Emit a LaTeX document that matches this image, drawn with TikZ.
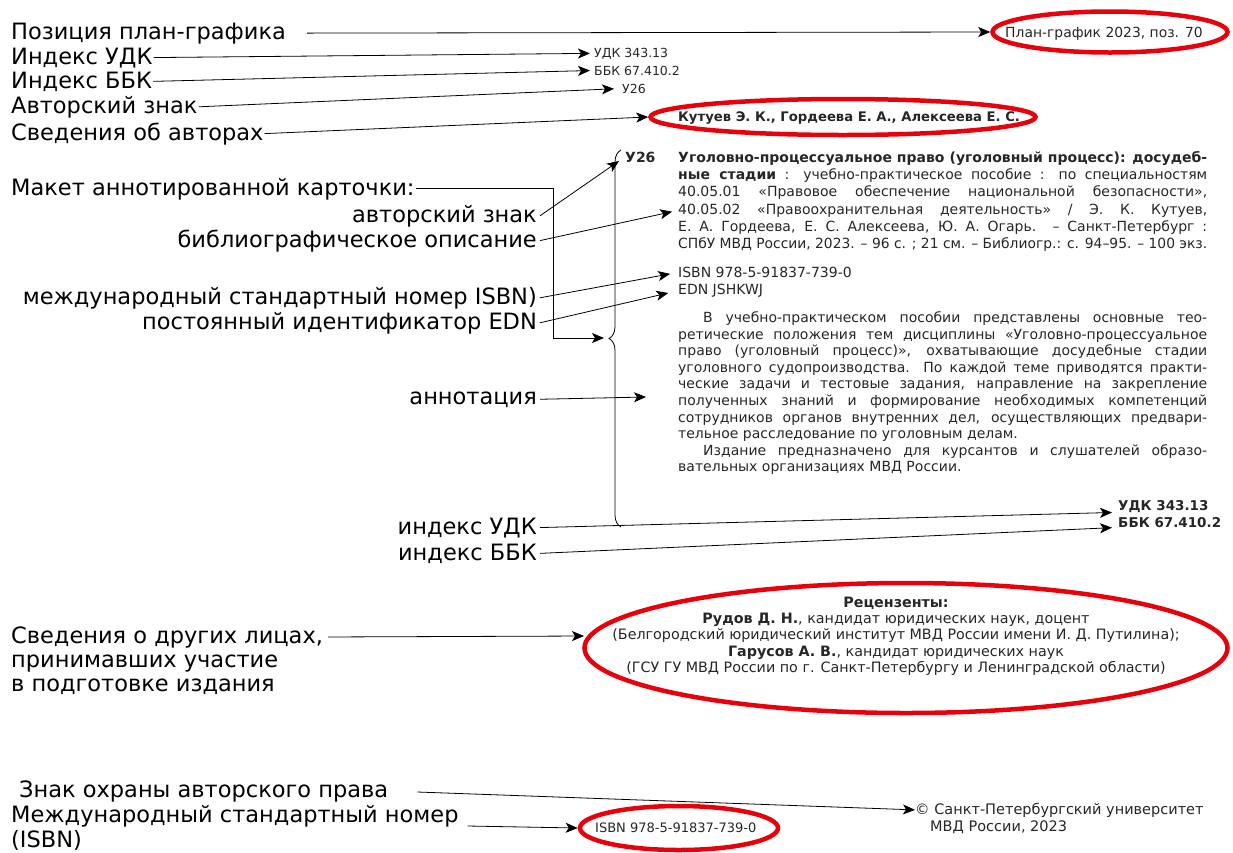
\documentclass[tikz,border=0pt]{standalone}
\usepackage{fontspec}
\usepackage{graphicx}
\setmainfont{DejaVu Sans}
\usetikzlibrary{arrows.meta,shapes.geometric,decorations.pathreplacing,calc}
\definecolor{txt}{HTML}{262626}
\definecolor{ered}{HTML}{E8000B}
\newcommand\LblFont{\fontsize{22.5}{25}\selectfont}
\newcommand\CardFont{\fontsize{14}{17}\selectfont}
\newlength\jlw
\newcommand\jl[1]{\settowidth\jlw{#1}\ifdim\jlw>529pt\relax\resizebox{529pt}{\height}{#1}\else\makebox[529pt][s]{#1}\fi}
\begin{document}
\begin{tikzpicture}[x=1pt,y=-1pt,
 lbl/.style={font=\LblFont, inner sep=1pt, anchor=base west},
 lblr/.style={font=\LblFont, inner sep=3pt, anchor=base east},
 card/.style={font=\CardFont, text=txt, inner sep=0pt, anchor=base west},
 small/.style={card, font=\fontsize{12.5}{15}\selectfont},
 arr/.style={-{Stealth[length=12pt,width=10pt,inset=3pt]}, line width=0.8pt},
 oval/.style={ellipse, draw=ered, line width=4.5pt, inner sep=0pt}]
\useasboundingbox (0,0) rectangle (1233,852);

% ---- top left labels
\node[lbl] (pos)  at (10,39)  {Позиция план-графика};
\node[lbl] (iudk) at (10,64)  {Индекс УДК};
\node[lbl] (ibbk) at (10,88)  {Индекс ББК};
\node[lbl] (iavt) at (10,113) {Авторский знак};
\node[lbl] (isv)  at (10,140) {Сведения об авторах};

% ---- top targets
\node[oval, minimum width=235, minimum height=41] (planE) at (1110,32) {};
\node[card, font=\fontsize{13.9}{16}\selectfont] (plan) at (1005,37) {План-график 2023, поз. 70};
\node[small] (udk1) at (594,57) {УДК 343.13};
\node[small] (bbk1) at (594,75) {ББК 67.410.2};
\node[small] (u26a) at (622,93) {У26};
\node[oval, minimum width=385, minimum height=36] (authE) at (843,117) {};
\node[card, font=\bfseries\fontsize{13.2}{15}\selectfont] (auth) at (678,121.5) {Кутуев Э. К., Гордеева Е. А., Алексеева Е. С.};

\draw[arr, shorten <=20pt] (pos.east) -- (planE.west);
\draw[arr, shorten >=4pt] (iudk.east) -- (udk1.west);
\draw[arr, shorten >=4pt] (ibbk.east) -- (bbk1.west);
\draw[arr, shorten >=8pt] (iavt.east) -- (u26a.west);
\draw[arr] (isv.east) -- (authE.west);

% ---- card: bibliographic description
\node[card, font=\CardFont\bfseries] (u26b) at (625,162.5) {У26};
\node[card] (b1) at (678,162.5) {\jl{\textbf{Уголовно-процессуальное право (уголовный процесс): досудеб-}}};
\node[card] (b2) at (678,179.7) {\jl{\textbf{ные стадии} : учебно-практическое пособие : по специальностям}};
\node[card] (b3) at (678,196.9) {\jl{40.05.01 «Правовое обеспечение национальной безопасности»,}};
\node[card] (b4) at (678,214.1) {\jl{40.05.02 «Правоохранительная деятельность» / Э. К. Кутуев,}};
\node[card] (b5) at (678,231.3) {\jl{Е. А. Гордеева, Е. С. Алексеева, Ю. А. Огарь. – Санкт-Петербург :}};
\node[card] (b6) at (678,248.5) {\jl{СПбУ МВД России, 2023. – 96 с. ; 21 см. – Библиогр.: с. 94–95. – 100 экз.}};
\node[card] (isbn) at (678,277.5) {ISBN 978-5-91837-739-0};
\node[card] (edn)  at (678,294.5) {EDN JSHKWJ};

% ---- card: annotation
\node[card] (a1)  at (678,322.5) {\jl{\hspace*{25pt}В учебно-практическом пособии представлены основные тео-}};
\node[card] (a2)  at (678,339.1) {\jl{ретические положения тем дисциплины «Уголовно-процессуальное}};
\node[card] (a3)  at (678,355.7) {\jl{право (уголовный процесс)», охватывающие досудебные стадии}};
\node[card] (a4)  at (678,372.3) {\jl{уголовного судопроизводства. По каждой теме приводятся практи-}};
\node[card] (a5)  at (678,388.9) {\jl{ческие задачи и тестовые задания, направление на закрепление}};
\node[card] (a6)  at (678,405.5) {\jl{полученных знаний и формирование необходимых компетенций}};
\node[card] (a7)  at (678,422.1) {\jl{сотрудников органов внутренних дел, осуществляющих предвари-}};
\node[card] (a8)  at (678,438.7) {тельное расследование по уголовным делам.};
\node[card] (a9)  at (678,455.3) {\jl{\hspace*{25pt}Издание предназначено для курсантов и слушателей образо-}};
\node[card] (a10) at (678,471.9) {вательных организациях МВД России.};

\node[card, font=\fontsize{13.5}{16}\selectfont\bfseries] (udk2) at (1118,510) {УДК 343.13};
\node[card, font=\fontsize{13.5}{16}\selectfont\bfseries] (bbk2) at (1118,527) {ББК 67.410.2};

% ---- brace
\draw[line width=0.8pt, decorate, decoration={brace, amplitude=12pt}] (621,527) -- (621,150);
\coordinate (braceTip) at (604,338);
\coordinate (bend) at (553,338);

% ---- middle left labels
\node[lbl]  (mak)  at (10,195)  {Макет аннотированной карточки:};
\node[lblr] (lavt) at (540,222) {авторский знак};
\node[lblr] (lbib) at (540,247) {библиографическое описание};
\node[lblr] (lisbn) at (540,304) {международный стандартный номер ISBN)};
\node[lblr] (ledn) at (540,329) {постоянный идентификатор EDN};
\node[lblr] (lann) at (540,404) {аннотация};
\node[lblr] (ludk) at (540,534) {индекс УДК};
\node[lblr] (lbbk) at (540,560) {индекс ББК};

\coordinate (u26tip) at (619,161);
\coordinate (annTip) at (646,397);

\draw[line width=0.8pt, -{Stealth[length=12pt,width=10pt,inset=3pt]}] (mak.east) -| (bend) -- (braceTip);
\draw[arr] (lavt.east) -- (u26tip);
\draw[arr, shorten >=6pt] (lbib.east) -- (b4.west);
\draw[arr, shorten >=8pt] (lisbn.east) -- (isbn.west);
\draw[arr, shorten >=10pt] (ledn.east) -- (edn.west);
\draw[arr] (lann.east) -- (annTip);
\draw[arr, shorten >=6pt] (ludk.east) -- (udk2.south west);
\draw[arr, shorten >=6pt] (lbbk.east) -- (bbk2.south west);

% ---- reviewers
\node[oval, minimum width=643, minimum height=130] (revE) at (906,648) {};
\node[font=\fontsize{14.3}{16.3}\selectfont, text=txt, align=center, inner sep=0pt] (rev) at (896,636)
 {\textbf{Рецензенты:}\\
  \textbf{Рудов Д. Н.}, кандидат юридических наук, доцент\\
  (Белгородский юридический институт МВД России имени И. Д. Путилина);\\
  \textbf{Гарусов А. В.}, кандидат юридических наук\\
  (ГСУ ГУ МВД России по г. Санкт-Петербургу и Ленинградской области)};
\node[lbl] (sv1) at (10,643) {Сведения о других лицах,};
\node[lbl] (sv2) at (10,667) {принимавших участие};
\node[lbl] (sv3) at (10,691) {в подготовке издания};
\coordinate (revTip) at (584,636);
\draw[arr, shorten <=4pt] (sv1.east) -- (revTip);

% ---- bottom
\node[lbl] (zn)  at (18,797) {Знак охраны авторского права};
\node[lbl] (mn1) at (10,822) {Международный стандартный номер};
\node[lbl] (mn2) at (10,847) {(ISBN)};
\node[card, font=\fontsize{14.5}{17}\selectfont] (copy1) at (915,814) {© Санкт-Петербургский университет};
\node[card, font=\fontsize{14.5}{17}\selectfont] (copy2) at (930,831) {МВД России, 2023};
\node[oval, minimum width=198, minimum height=44] (isbnE) at (679,828) {};
\node[small, font=\fontsize{13}{15}\selectfont] (isbnB) at (595,832) {ISBN 978-5-91837-739-0};
\coordinate (mnStart) at ($(mn1.base east)+(8,4)$);
\draw[arr, shorten <=28pt] (zn.east) -- (copy1.west);
\draw[arr] (mnStart) -- (isbnE.west);
\end{tikzpicture}
\end{document}
